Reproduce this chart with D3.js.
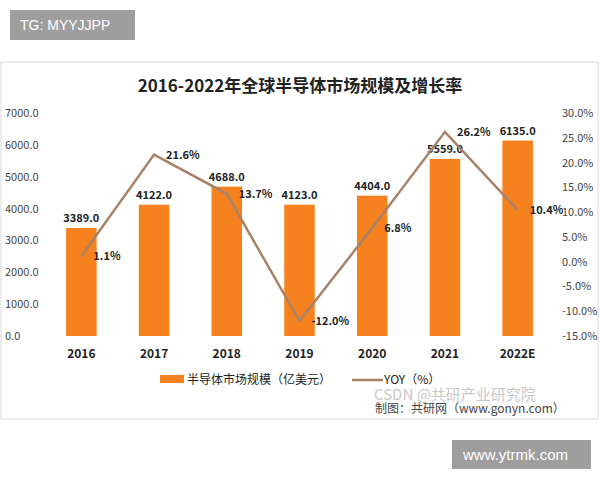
<!DOCTYPE html>
<html><head><meta charset="utf-8">
<script src="https://cdn.jsdelivr.net/npm/d3@7"></script>
<style>body{margin:0;background:#fff;font-family:"Noto Sans CJK SC",sans-serif}</style>
</head><body>
<svg id="chart" width="600" height="480"></svg>
<script>
var years = ["2016", "2017", "2018", "2019", "2020", "2021", "2022E"];
var market = [3389.0, 4122.0, 4688.0, 4123.0, 4404.0, 5559.0, 6135.0];
var yoy = [1.1, 21.6, 13.7, -12.0, 6.8, 26.2, 10.4];
var leftTicks = [0, 1000, 2000, 3000, 4000, 5000, 6000, 7000];
var rightTicks = [-15, -10, -5, 0, 5, 10, 15, 20, 25, 30];

var svg = d3.select("#chart");
var f = "Noto Sans CJK SC, sans-serif";

// frame
svg.append("rect").attr("x", 1).attr("y", 62).attr("width", 597).attr("height", 357)
  .attr("fill", "#fff").attr("stroke", "#d9d9d9");

var x = d3.scaleBand().domain(years).range([45, 554]).paddingInner(0.58).paddingOuter(0.29);
var yL = d3.scaleLinear().domain([0, 7000]).range([336, 113]);
var yR = d3.scaleLinear().domain([-15, 30]).range([336, 113]);

svg.append("text").attr("x", 300).attr("y", 92).attr("text-anchor", "middle")
  .attr("font-family", f).attr("font-weight", "bold").attr("font-size", 17).attr("fill", "#222")
  .text("2016-2022年全球半导体市场规模及增长率");

svg.selectAll(".lt").data(leftTicks).enter().append("text")
  .attr("x", 5).attr("y", function(d) { return yL(d) + 4; })
  .attr("font-family", f).attr("font-size", 11).attr("fill", "#444")
  .text(function(d) { return d.toFixed(1); });
svg.selectAll(".rt").data(rightTicks).enter().append("text")
  .attr("x", 562).attr("y", function(d) { return yR(d) + 4; })
  .attr("font-family", f).attr("font-size", 11).attr("fill", "#444")
  .text(function(d) { return d.toFixed(1) + "%"; });

svg.selectAll(".bar").data(market).enter().append("rect")
  .attr("x", function(d, i) { return x(years[i]); })
  .attr("y", function(d) { return yL(d); })
  .attr("width", x.bandwidth())
  .attr("height", function(d) { return yL(0) - yL(d); })
  .attr("fill", "#f5821f");

svg.selectAll(".bl").data(market).enter().append("text")
  .attr("x", function(d, i) { return x(years[i]) + x.bandwidth() / 2; })
  .attr("y", function(d) { return yL(d) - 6; })
  .attr("text-anchor", "middle").attr("font-family", f).attr("font-weight", "bold")
  .attr("font-size", 11).attr("fill", "#222").text(function(d) { return d.toFixed(1); });

var line = d3.line()
  .x(function(d, i) { return x(years[i]) + x.bandwidth() / 2; })
  .y(function(d) { return yR(d); });
svg.append("path").datum(yoy).attr("d", line).attr("fill", "none")
  .attr("stroke", "#a88266").attr("stroke-width", 2.5);

svg.selectAll(".yl").data(yoy).enter().append("text")
  .attr("x", function(d, i) { return x(years[i]) + x.bandwidth() / 2 + 12; })
  .attr("y", function(d) { return yR(d) + 4; })
  .attr("font-family", f).attr("font-weight", "bold")
  .attr("font-size", 11).attr("fill", "#222").text(function(d) { return d.toFixed(1) + "%"; });

svg.selectAll(".xl").data(years).enter().append("text")
  .attr("x", function(d) { return x(d) + x.bandwidth() / 2; })
  .attr("y", 358).attr("text-anchor", "middle").attr("font-family", f)
  .attr("font-weight", "bold").attr("font-size", 12).attr("fill", "#222").text(function(d) { return d; });

// legend
svg.append("rect").attr("x", 160).attr("y", 375).attr("width", 24).attr("height", 8).attr("fill", "#f5821f");
svg.append("text").attr("x", 187).attr("y", 384).attr("font-family", f).attr("font-size", 12)
  .attr("fill", "#222").text("半导体市场规模（亿美元）");
svg.append("line").attr("x1", 352).attr("x2", 383).attr("y1", 380).attr("y2", 380)
  .attr("stroke", "#a88266").attr("stroke-width", 2.5);
svg.append("text").attr("x", 384).attr("y", 384).attr("font-family", f).attr("font-size", 12)
  .attr("fill", "#222").text("YOY（%）");

svg.append("text").attr("x", 375).attr("y", 413).attr("font-family", f).attr("font-size", 12)
  .attr("fill", "#444").text("制图：共研网（www.gonyn.com）");
svg.append("text").attr("x", 374).attr("y", 400).attr("font-family", f).attr("font-size", 15)
  .attr("fill", "#bbb").attr("opacity", 0.8).text("CSDN @共研产业研究院");

// badges
svg.append("rect").attr("x", 10).attr("y", 10).attr("width", 125).attr("height", 30).attr("fill", "#9e9e9e");
svg.append("text").attr("x", 20).attr("y", 30).attr("font-family", "Liberation Sans, sans-serif")
  .attr("font-size", 14).attr("fill", "#fff").text("TG: MYYJJPP");
svg.append("rect").attr("x", 452).attr("y", 440).attr("width", 139).attr("height", 29).attr("fill", "#9e9e9e");
svg.append("text").attr("x", 463).attr("y", 460).attr("font-family", "Liberation Sans, sans-serif")
  .attr("font-size", 15).attr("fill", "#fff").text("www.ytrmk.com");
</script>
</body></html>
